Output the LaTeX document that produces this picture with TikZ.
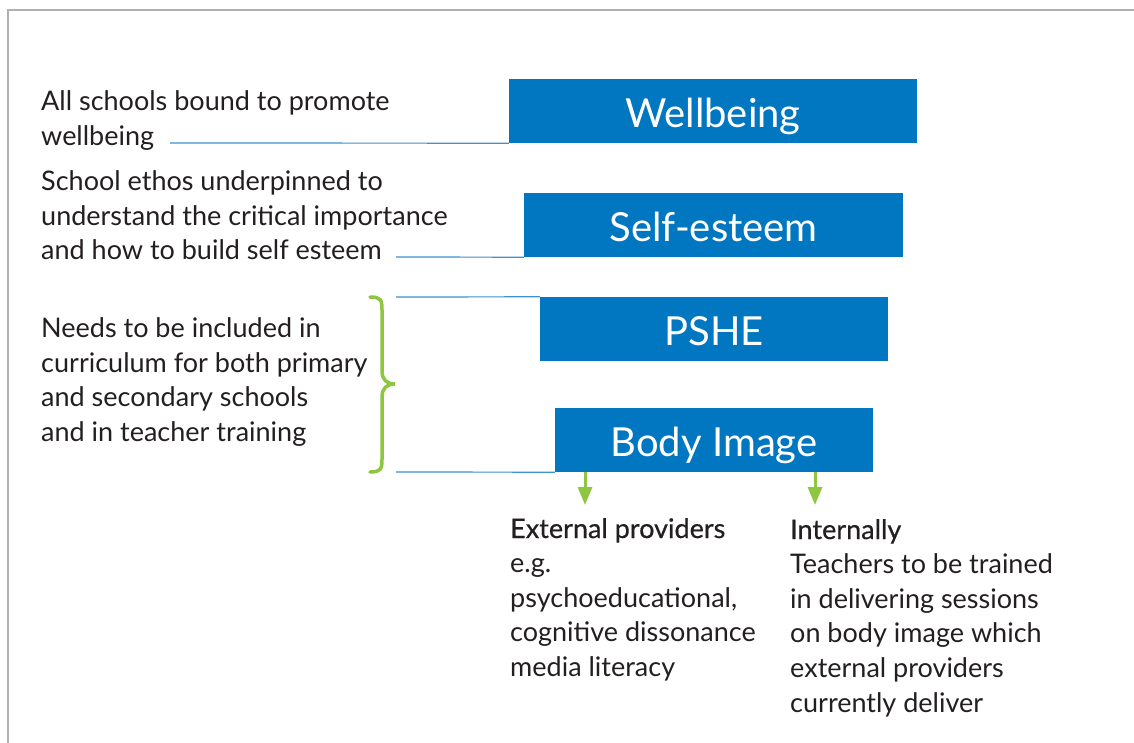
\documentclass[tikz,border=0pt]{standalone}
\usepackage{fontspec}
\setmainfont{Lato}
\usetikzlibrary{arrows.meta}
\definecolor{boxblue}{RGB}{0,119,192}
\definecolor{lineblue}{RGB}{60,145,208}
\definecolor{bracegreen}{RGB}{141,198,63}
\definecolor{txtgray}{RGB}{35,31,32}
\definecolor{framegray}{RGB}{176,176,176}
\newcommand{\ptxt}[1]{\parbox[t]{420pt}{\raggedright #1}}
\newcommand{\medw}[1]{{\addfontfeature{FakeBold=0.6}#1}}
\tikzset{
  bluebox/.style={fill=boxblue, text=white, inner sep=0pt, minimum height=64pt,
    font={\fontsize{40}{44}\selectfont}, text height=33pt, text depth=0pt},
  sidetext/.style={anchor=base west, inner sep=0pt, text=txtgray,
    font={\fontsize{27}{34.6}\selectfont}},
  connline/.style={draw=lineblue, line width=1.2pt},
  greenarrow/.style={draw=bracegreen, line width=3pt, -{Triangle[width=14pt,length=18pt]}},
  bracestyle/.style={draw=bracegreen, line width=3.5pt, line cap=round}
}
\begin{document}
\begin{tikzpicture}[x=1pt,y=-1pt]
\useasboundingbox (0,0) rectangle (1134,743);
\draw[framegray, line width=1.6pt] (8,743) -- (8,10) -- (1134,10);

% boxes
\node[bluebox, minimum width=408pt] (wb) at (713,111) {Wellbeing};
\node[bluebox, minimum width=379pt] (se) at (713.5,225) {Self-esteem};
\node[bluebox, minimum width=348pt] (ps) at (714,329) {PSHE};
\node[bluebox, minimum width=318pt] (bi) at (714,440) {Body Image};

% side texts
\node[sidetext] (t1) at (41,111) {\ptxt{All schools bound to promote\\wellbeing}};
\node[sidetext] (t2) at (41,190.5) {\ptxt{School ethos underpinned to\\understand the critical importance\\and how to build self esteem}};
\node[sidetext] (t3) at (41,337.5) {\ptxt{Needs to be included in\\curriculum for both primary\\and secondary schools\\and in teacher training}};
\node[sidetext] (t4) at (510,538) {\ptxt{\medw{External providers}\\e.g.\\psychoeducational,\\cognitive dissonance\\media literacy}};
\node[sidetext] (t5) at (790,539) {\ptxt{\medw{Internally}\\Teachers to be trained\\in delivering sessions\\on body image which\\external providers\\currently deliver}};

% connector lines
\coordinate (c1) at (170,143);
\coordinate (c2) at (396,257);
\coordinate (c3) at (396,297);
\coordinate (c4) at (396,472);
\draw[connline] (c1) -- (wb.south west);
\draw[connline] (c2) -- (se.south west);
\draw[connline] (c3) -- (ps.north west);
\draw[connline] (c4) -- (bi.south west);

% brace
\draw[bracestyle] (370,297) .. controls (381,297) and (382,300) .. (382,310)
  -- (382,371) .. controls (382,380) and (387,384) .. (395,384)
  .. controls (387,384) and (382,388) .. (382,397)
  -- (382,459) .. controls (382,469) and (381,472) .. (370,472);

% arrows
\coordinate (a1) at (585,505);
\coordinate (a2) at (815,505);
\draw[greenarrow] (bi.south -| a1) -- (a1);
\draw[greenarrow] (bi.south -| a2) -- (a2);
\end{tikzpicture}
\end{document}
